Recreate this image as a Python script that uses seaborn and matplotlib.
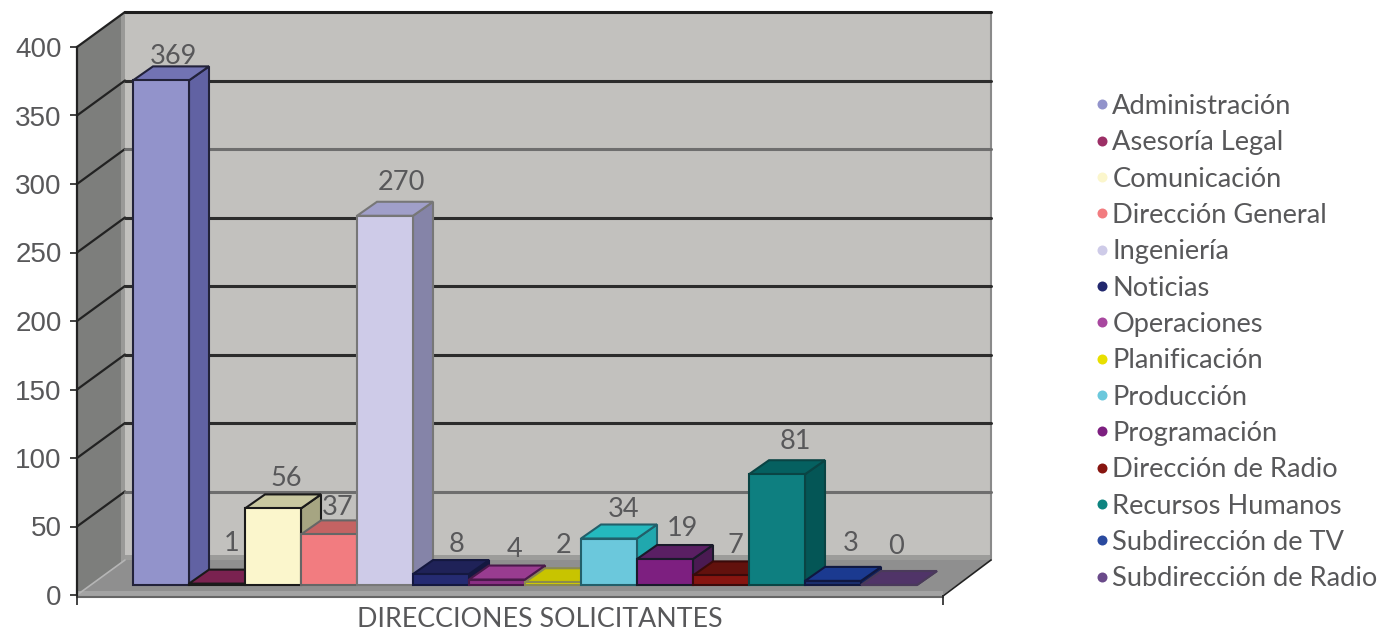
import matplotlib
matplotlib.use("Agg")
import matplotlib.pyplot as plt
import pandas as pd
import seaborn as sns
from matplotlib.lines import Line2D
from matplotlib.patches import Polygon
from matplotlib.transforms import Affine2D

# data
direcciones = ["Administración", "Asesoría Legal", "Comunicación", "Dirección General",
               "Ingeniería", "Noticias", "Operaciones", "Planificación", "Producción",
               "Programación", "Dirección de Radio", "Recursos Humanos",
               "Subdirección de TV", "Subdirección de Radio"]
solicitudes = [369, 1, 56, 37, 270, 8, 4, 2, 34, 19, 7, 81, 3, 0]
y_ticks = [0, 50, 100, 150, 200, 250, 300, 350, 400]

# bar faces
front_colors = ["#9293CB", "#96295F", "#FBF6CC", "#F27C80", "#CECBE8", "#252B72", "#8B2F85",
                "#D4CE00", "#6BC8DC", "#7D1F80", "#871510", "#0E7F80", "#1B2F70", "#503468"]
top_colors = ["#7273B3", "#7A2250", "#C9C8A0", "#C46363", "#A09FC9", "#1F2258", "#993C90",
              "#C8C400", "#24B9BE", "#5A1F63", "#62110D", "#056060", "#1B3A90", "#503468"]
side_colors = ["#6162A3", "#5E1A40", "#A6A582", "#A05050", "#8584A8", "#14183F", "#6E2468",
               "#8F8B00", "#20A8AE", "#4A1A52", "#4A0D0A", "#045656", "#122560", "#3F2955"]
edge_colors = ["#22223A", "#1A1A1A", "#1A1A1A", "#666666", "#777777", "#14183F", "#4A1A4A",
               "#8A8A50", "#225F6A", "#1A1A2A", "#3A0A0A", "#0A4444", "#101840", "#4A3A5A"]
marker_colors = ["#9293CB", "#9C2F66", "#FBF6CC", "#F27C80", "#CECBE8", "#22286E", "#A8479F",
                 "#E8DF00", "#6BC8DC", "#7D1F80", "#871510", "#0E8480", "#2A4A9F", "#6A4A8A"]

# nudges of the value labels from the bar top, in pixels (x right, y up)
label_dx = [12, 15, 13, 9, 16, 16, 18, 11, 15, 17, 14, 18, 18, 7]
label_dy = [24, 40, 30, 27, 33, 30, 30, 37, 29, 31, 30, 33, 37, 39]

# grey level of each back wall line, the picture has some lighter ones
grid_colors = ["#333333", "#6E6E6E", "#2C2C2C", "#2C2C2C", "#2C2C2C", "#2C2C2C", "#6E6E6E", "#2C2C2C", "#1E1E1E"]

W, H = 1384, 630
BAR_W, BASE_Y, FIRST_X = 56, 585, 161
UNIT = 1.3675
FRONT_L, FRONT_R, FRONT_BOTTOM, FRONT_TOP = 77, 943, 595, 47
WALL_DX, WALL_DY = 48, 35
DEPTH_X, DEPTH_Y = 20, 14

sns.set_theme(style="white")
plt.rcParams["font.family"] = ["Lato", "DejaVu Sans"]
TEXT = "#58585A"

fig = plt.figure(figsize=(W / 100, H / 100), dpi=100)
pix = Affine2D().scale(1, -1).translate(0, H)

# bars axes fills the figure, one category = one bar width
ax = fig.add_axes([0, 0, 1, 1])
ax.patch.set_visible(False)
df = pd.DataFrame({"direccion": direcciones, "solicitudes": solicitudes})
sns.barplot(data=df, x="direccion", y="solicitudes", hue="direccion", palette=front_colors,
            width=1, legend=False, ax=ax, saturation=1, dodge=False)
ax.set_xlim(-FIRST_X / BAR_W, (W - FIRST_X) / BAR_W)
ax.set_ylim(-(H - BASE_Y) / UNIT, BASE_Y / UNIT)
ax.set_axis_off()


def shape(points, color, z, edge="none", lw=0):
    ax.add_patch(Polygon(points, closed=True, facecolor=color, edgecolor=edge, linewidth=lw,
                         transform=pix, zorder=z, clip_on=False))


back_l, back_r = FRONT_L + WALL_DX, FRONT_R + WALL_DX
back_top, back_bottom = FRONT_TOP - WALL_DY, FRONT_BOTTOM - WALL_DY

# walls and floor
shape([(back_l, back_top), (back_r, back_top), (back_r, back_bottom), (back_l, back_bottom)], "#C2C1BE", 1)
shape([(FRONT_L, FRONT_TOP), (back_l, back_top), (back_l, back_bottom), (FRONT_L, FRONT_BOTTOM)], "#7D7E7C", 1)
shape([(back_l - 4, back_top + 3), (back_l, back_top), (back_l, back_bottom), (back_l - 4, back_bottom + 3)], "#9A9A98", 1.1)
shape([(FRONT_L, FRONT_BOTTOM), (back_l, back_bottom), (back_r, back_bottom), (FRONT_R, FRONT_BOTTOM)], "#8F8F8F", 1.2)
shape([(back_l, back_bottom - 5), (back_r, back_bottom - 5), (back_r, back_bottom), (back_l, back_bottom)], "#9C9C9A", 1.3)
shape([(FRONT_L, FRONT_BOTTOM - 4), (FRONT_R, FRONT_BOTTOM - 4), (FRONT_R, FRONT_BOTTOM + 2), (FRONT_L, FRONT_BOTTOM + 2)], "#A3A3A3", 1.4)

ax.add_line(Line2D([back_r, back_r], [back_top, back_bottom], color="#8A8A8A", lw=1.5, transform=pix, zorder=2))
ax.add_line(Line2D([FRONT_L, back_l], [FRONT_BOTTOM, back_bottom], color="#B5B5B5", lw=1.2, transform=pix, zorder=2))
ax.add_line(Line2D([FRONT_R, back_r], [FRONT_BOTTOM + 1, back_bottom], color="#222222", lw=1.2, transform=pix, zorder=2))
ax.add_line(Line2D([FRONT_L, FRONT_R], [FRONT_BOTTOM + 2, FRONT_BOTTOM + 2], color="#666666", lw=1.5, transform=pix, zorder=2))

# value lines, diagonal on the side wall then across the back
for tick, c in zip(y_ticks, grid_colors):
    y = FRONT_BOTTOM - tick * (FRONT_BOTTOM - FRONT_TOP) / 400
    if tick > 0:
        ax.add_line(Line2D([FRONT_L, back_l], [y, y - WALL_DY], color="#222222", lw=1.6, transform=pix, zorder=2.5))
        ax.add_line(Line2D([back_l, back_r], [y - WALL_DY, y - WALL_DY], color=c, lw=2.2, transform=pix, zorder=2.5))

# depth of the bars, built on the rectangles that seaborn drew
for i, bar in enumerate(ax.patches[:len(solicitudes)]):
    x0 = bar.get_x()
    x1 = x0 + bar.get_width()
    y1 = bar.get_height()
    dx = DEPTH_X / BAR_W
    dy = DEPTH_Y / UNIT
    z = 5 + i
    edge = edge_colors[i]
    bar.set_edgecolor(edge)
    bar.set_linewidth(1.5)
    bar.set_zorder(z + 0.3)
    ax.add_patch(Polygon([(x1, 0), (x1 + dx, dy), (x1 + dx, y1 + dy), (x1, y1)], closed=True,
                         facecolor=side_colors[i], edgecolor=edge, linewidth=1.5, zorder=z))
    ax.add_patch(Polygon([(x0, y1), (x0 + dx, y1 + dy), (x1 + dx, y1 + dy), (x1, y1)], closed=True,
                         facecolor=top_colors[i], edgecolor=edge, linewidth=1.5, zorder=z + 0.1))
    ax.annotate(str(solicitudes[i]), xy=(i, y1), xytext=(label_dx[i], label_dy[i]),
                textcoords="offset pixels", ha="center", va="center",
                fontsize=19.5, color=TEXT, zorder=30)

# axis on the front plane
ay = fig.add_axes([FRONT_L / W, (H - FRONT_BOTTOM) / H, (FRONT_R - FRONT_L) / W, (FRONT_BOTTOM - FRONT_TOP) / H])
ay.patch.set_visible(False)
ay.set_ylim(0, 400)
ay.set_xlim(0, 1)
ay.set_yticks(y_ticks)
ay.set_xticks([0, 1])
ay.set_xticklabels([])
ay.tick_params(axis="y", length=5, width=1.2, color="#222222", labelcolor=TEXT, labelsize=20, pad=6, left=True)
ay.tick_params(axis="x", length=7, width=1.2, color="#222222", bottom=True)
for label in ay.get_yticklabels():
    label.set_fontfamily("Liberation Sans")
for name in ["top", "right", "bottom"]:
    ay.spines[name].set_visible(False)
ay.spines["left"].set_color("#222222")
ay.spines["left"].set_linewidth(1.6)
ay.set_xlabel("DIRECCIONES SOLICITANTES", fontsize=19.3, color=TEXT)
ay.xaxis.set_label_coords((540 - FRONT_L) / (FRONT_R - FRONT_L), (FRONT_BOTTOM - 632) / (FRONT_BOTTOM - FRONT_TOP), ay.transAxes)
ay.xaxis.label.set_verticalalignment("bottom")

handles = [Line2D([], [], linestyle="none", marker="o", markersize=7.2, markerfacecolor=c,
                  markeredgecolor="none", label=d) for c, d in zip(marker_colors, direcciones)]
ax.legend(handles=handles, loc="upper left", bbox_to_anchor=(1092, 94), bbox_transform=pix,
          frameon=False, fontsize=19.6, labelcolor=TEXT, labelspacing=0.416, handlelength=0.75,
          handletextpad=0.0, borderpad=0, borderaxespad=0)

fig.savefig("out.png", dpi=100)
